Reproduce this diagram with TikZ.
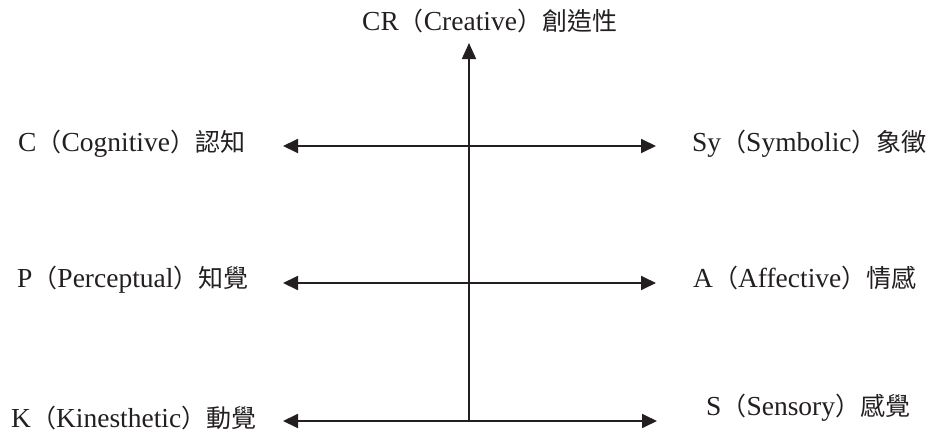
\documentclass[tikz,border=0pt]{standalone}
\usepackage{fontspec}
\setmainfont{Liberation Serif}
\newfontfamily\cjk{Noto Sans CJK TC}
\usetikzlibrary{arrows.meta}
\definecolor{ink}{HTML}{231F20}
\newcommand{\cj}[1]{{\cjk\fontsize{25}{30}\selectfont #1}}
\newcommand{\lab}[3]{#1\cj{（}#2\cj{）}\cj{#3}}
\begin{document}
\begin{tikzpicture}[x=1pt,y=-1pt,
  lbl/.style={inner sep=0pt,font=\fontsize{27.5}{31}\selectfont,text=ink},
  axis/.style={draw=ink,line width=1.8pt,-{Triangle[length=16pt,width=14pt]}},
  biaxis/.style={draw=ink,line width=1.8pt,{Triangle[length=15pt,width=14pt]}-{Triangle[length=15pt,width=14pt]}}]
\useasboundingbox (0,0) rectangle (930,434);
% axis end points
\coordinate (vb) at (469,421);
\coordinate (vt) at (469,43);
\coordinate (l1) at (283,146);
\coordinate (r1) at (656,146);
\coordinate (l2) at (283,283);
\coordinate (r2) at (656,283);
\coordinate (l3) at (283,421);
\coordinate (r3) at (657,421);
% connectors
\draw[axis] (vb) -- (vt);
\draw[biaxis] (l1) -- (r1);
\draw[biaxis] (l2) -- (r2);
\draw[biaxis] (l3) -- (r3);
% labels
\node[lbl,anchor=base west] (cr) at (362,30) {\lab{CR}{Creative}{創造性}};
\node[lbl,anchor=base west] (c) at (18,151) {\lab{C}{Cognitive}{認知}};
\node[lbl,anchor=base west] (p) at (17,287) {\lab{P}{Perceptual}{知覺}};
\node[lbl,anchor=base west] (k) at (11,427) {\lab{K}{Kinesthetic}{動覺}};
\node[lbl,anchor=base west] (sy) at (692,151) {\lab{Sy}{Symbolic}{象徵}};
\node[lbl,anchor=base west] (a) at (693,287) {\lab{A}{Affective}{情感}};
\node[lbl,anchor=base west] (s) at (706,415) {\lab{S}{Sensory}{感覺}};
\end{tikzpicture}
\end{document}
